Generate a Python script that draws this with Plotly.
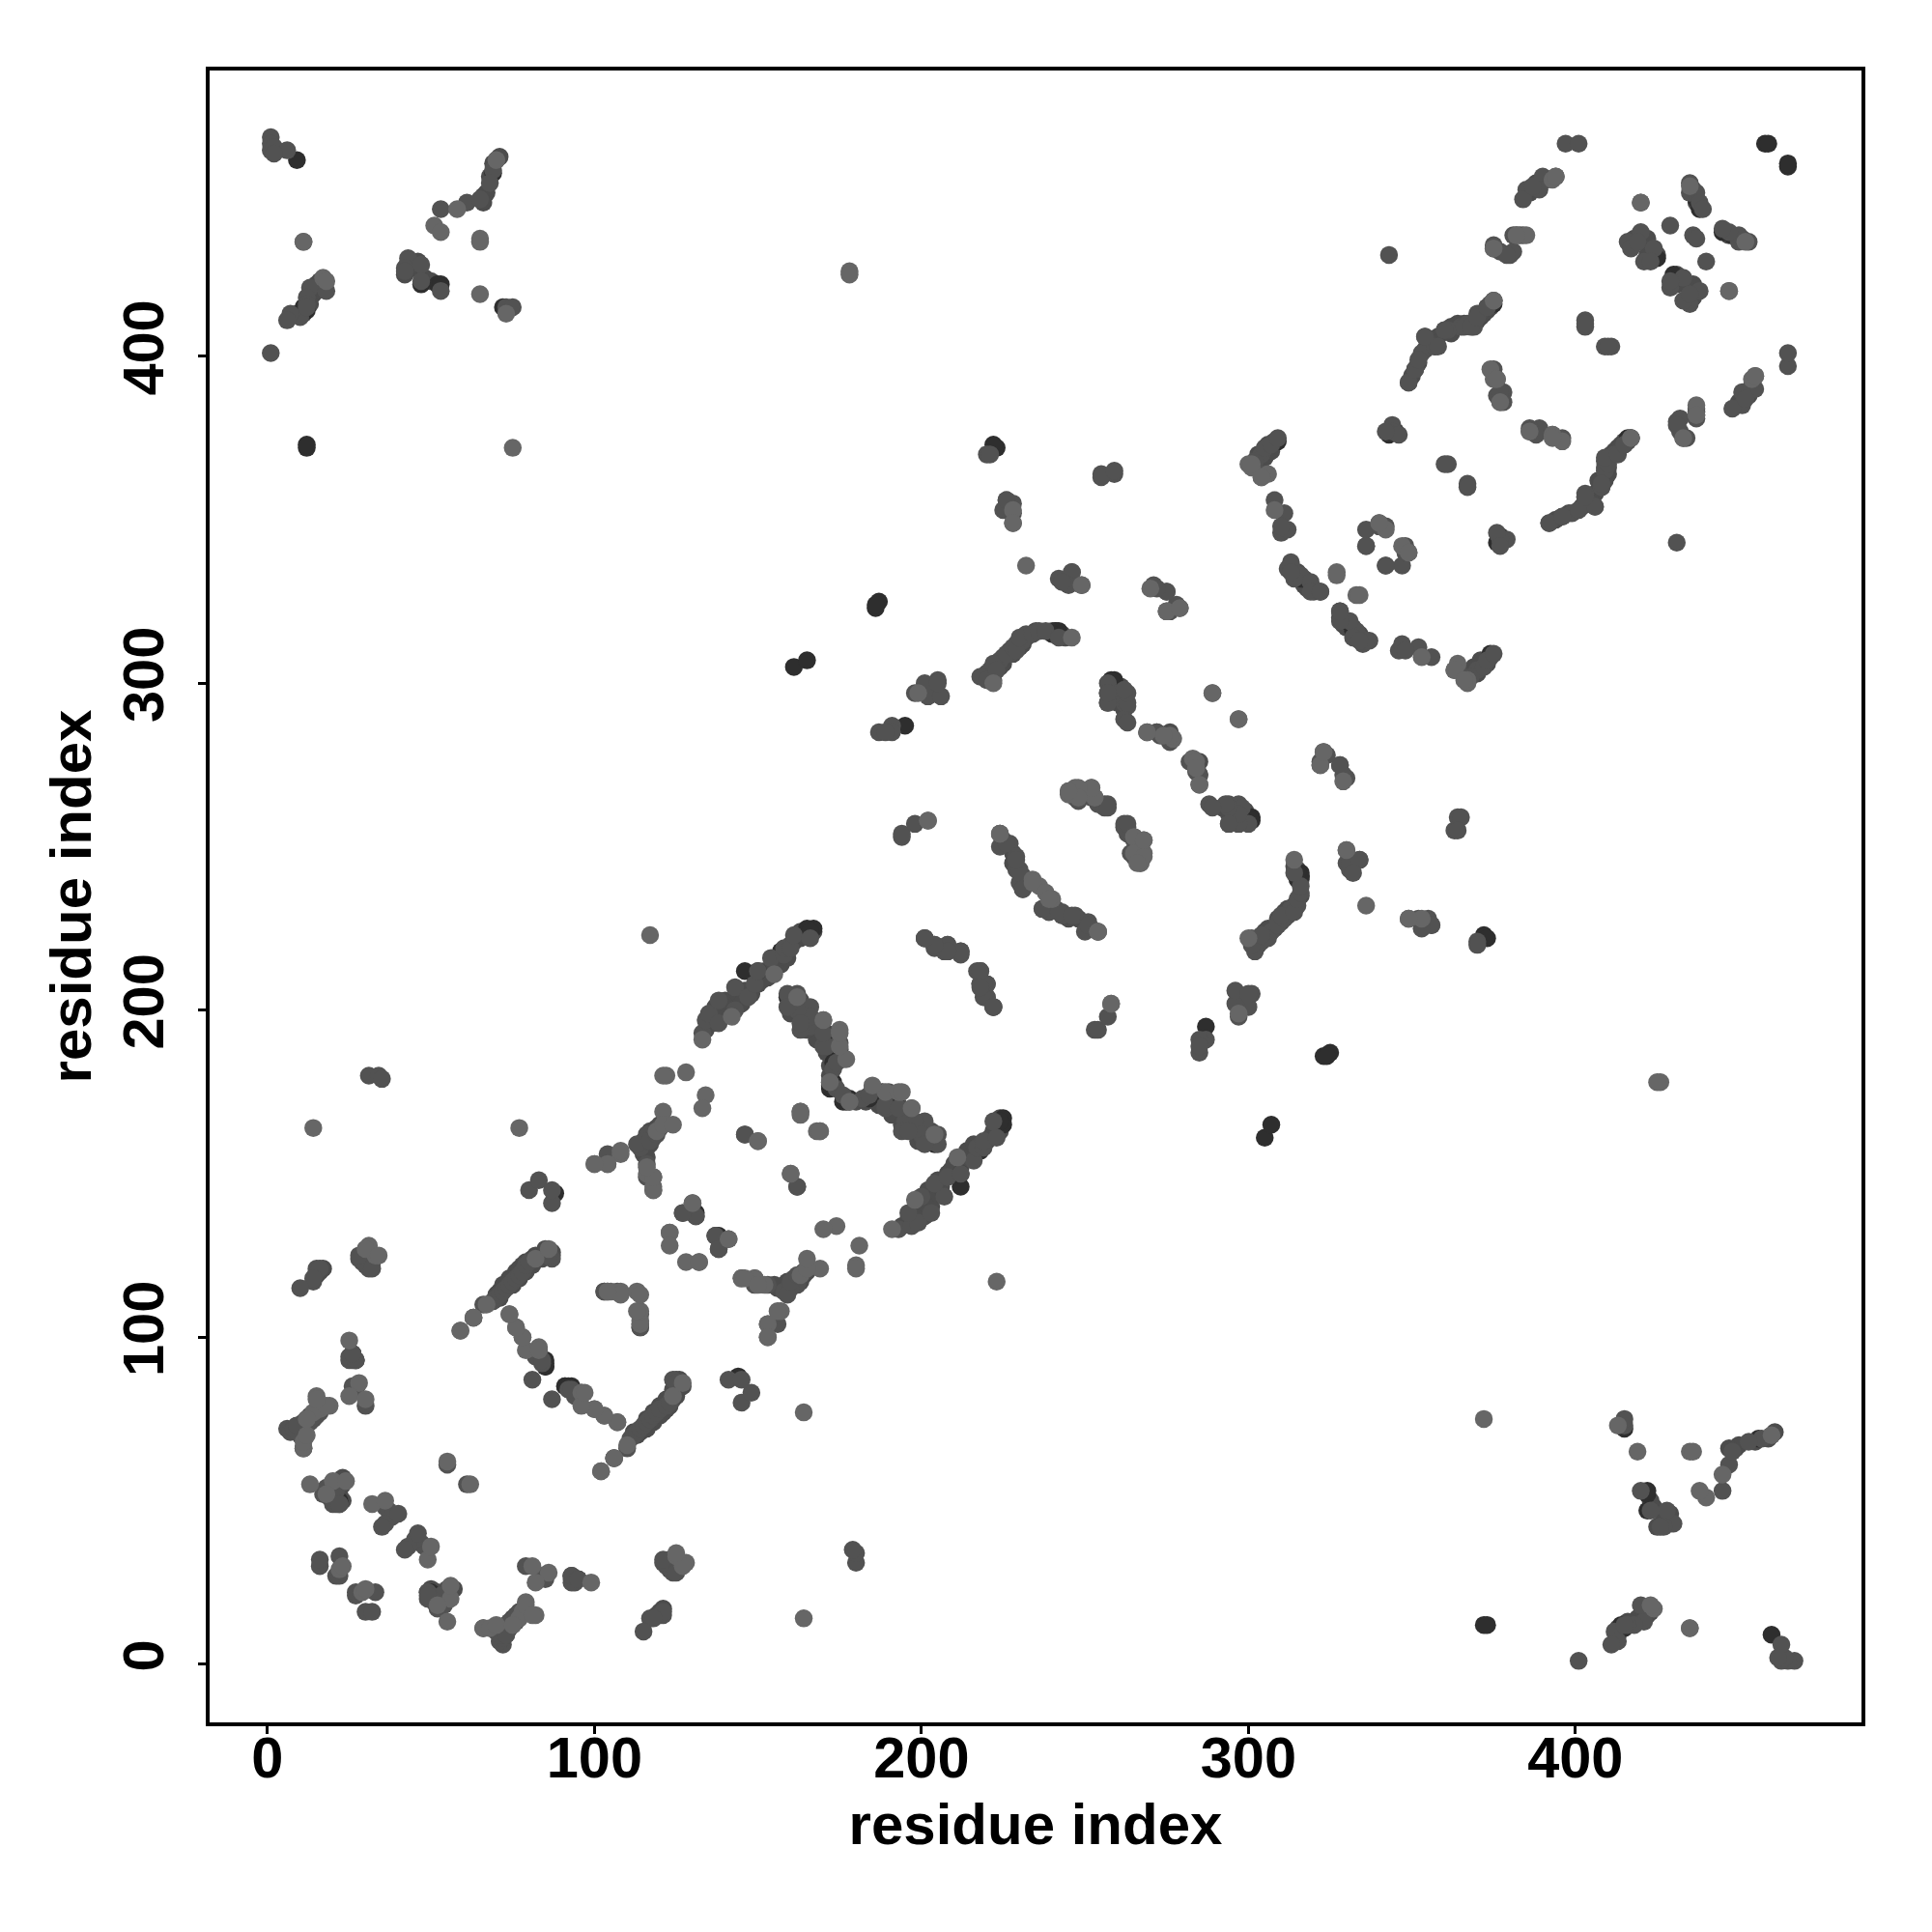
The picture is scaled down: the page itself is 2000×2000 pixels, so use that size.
import plotly.graph_objects as go

# residue contact pairs; the map is symmetric so each is drawn on both sides of the diagonal
contacts_mid = [
 (14,117),(15,120),(15,121),(16,121),(14,118),(28,124),(30,122),(31,121),(32,121),(28,125),
 (26,95),(25,94),(26,93),(27,93),(25,93),(27,84),(26,85),(30,79),
 (6,72),(7,71),(8,72),(9,71),(9,73),(12,75),(13,74),(15,76),(16,77),
 (17,52),(18,54),(19,51),(21,53),(22,49),(20,49),(36,48),(37,47),(38,45),(36,43),(40,46),(35,42),
 (66,110),(69,111),(70,112),(71,113),(72,114),(73,115),(74,116),(75,117),(76,118),(77,119),(78,120),(79,122),(80,123),(87,124),(86,125),
 (82,94),(84,92),(81,87),(83,96),(84,93),(114,103),(103,114),(104,114),(114,107),
 (16,30),(16,32),(22,33),(21,27),(22,27),(21,49),(9,73),
 (93,27),(27,93),(95,26),(26,95),(10,115),(63,106),
 (133,193),(134,197),(135,199),(138,196),(138,203),(143,200),(143,207),(147,204),(149,208),(150,212),(154,216),(158,217),(158,219),(160,219),(161,223),(166,222),
 (162,205),(162,201),(166,201),(170,197),(166,195),(175,190),(170,189),(176,185),(173,182),(172,178),(174,176),(174,184),(171,189),(170,193),(166,198),(163,194),(162,200),(159,205),(163,196),(159,201),
 (201,222),(204,220),(208,220),(212,218),(208,218),(212,217),(208,219),(204,219),(201,222),
 (116,162),(121,165),(118,161),(114,158),(116,153),(118,149),(116,149),(104,156),(104,153),(115,160),(120,164),(113,159),(117,160),(119,162),(118,145),
 (80,145),(83,148),(87,141),(87,145),(127,138),(130,141),(137,131),(138,127),(146,162),(162,146),
 (219,302),(222,301),(224,307),(227,309),(229,312),(232,315),(221,304),(222,306),(226,309),(228,311),(231,313),(218,302),(220,301),(223,304),(229,310),(230,314),(234,315),(236,316),(238,316),(242,314),
 (205,301),(201,300),(202,296),(206,296),(205,300),(198,297),(191,287),(187,285),(191,285),(189,285),
 (257,300),(257,297),(260,297),(262,294),(263,293),(262,289),(257,294),(273,284),(276,283),(272,285),(285,269),(282,276),
 (245,267),(248,264),(252,265),(254,263),(256,263),(256,262),(257,263),(247,265),(262,257),(253,265),
 (224,254),(224,250),(227,251),(229,247),(230,243),(229,243),(230,239),(231,237),(237,231),(230,242),(229,246),(226,251),
 (194,253),(194,254),(198,257),(212,218),(220,208),(218,208),(220,204),(222,201),(207,218),
 (220,370),(226,356),(225,353),(245,331),(246,334),(242,332),(255,364),(271,330),(275,328),(276,322),(278,324),
 (288,263),(294,263),(297,263),(294,257),(298,262),(297,257),
 (322,275),(323,279),(328,275),(329,272),
 (330,249),(334,246),(330,245),(331,243),(364,259),(363,255),(365,259),(349,228),(352,228),(355,228),(356,226),(370,221),
 (1,467),(1,465),(1,463),(2,464),(6,463),(13,421),(12,418),(12,416),(10,412),(12,415),(18,420),(7,413),(6,411),
 (69,457),(70,460),(68,453),(61,447),(53,445),(65,448),(43,430),(47,428),(42,427),(42,426),(53,420),(47,423),(73,415),(75,415),
 (304,370),(302,368),(305,372),(307,373),(309,375),(301,367),(304,364),(308,356),(311,352),(310,346),(312,347),(310,348),
 (313,337),(312,335),(314,334),(316,333),(319,331),(319,328),(322,328),(314,332),(313,336),(313,334),
 (336,347),(340,349),(342,348),(336,342),(340,348),(342,336),(344,379),(344,377),(346,376),(342,377),
 (361,367),(360,367),(349,392),(351,396),(353,401),(354,406),(357,403),(360,408),(365,409),(367,410),(369,409),(370,413),(373,415),(375,417),(361,408),
 (375,396),(376,393),(378,389),(378,386),(376,388),(386,377),(389,377),
 (392,349),(396,351),(399,352),(403,357),(408,360),(406,354),
 (390,455),(389,451),(385,451),(384,448),(387,452),(420,447),(435,453),(435,450),(437,450),(438,447),
 (420,438),(416,435),(417,433),(424,433),(421,429),(423,429),(419,435),(429,440),(439,445),
 (403,411),(403,409),(403,410),(375,433),(377,432),(380,431),(381,432),(383,437),(381,437),
 (384,437),(382,437),(379,431),(375,434),(394,455),(397,465),(401,465),
 (403,358),(409,366),(409,368),(412,370),(415,373),(417,375),(436,437),
 (2,462),(1,401),(49,22),(31,180),(34,180),(35,179),(55,61),(343,431),
]
contacts_strands = [
 (70,113),(71,114),(72,115),(73,116),(74,117),(75,118),(76,119),(77,121),(78,122),(79,123),(81,124),(82,125),(76,120),(74,118),(72,116),(71,112),(75,116),(77,118),(79,120),(81,122),(85,127),(87,125),(87,126),(84,124),
 (134,194),(136,196),(137,198),(137,201),(139,199),(140,203),(141,201),(143,203),(144,205),(145,202),(146,206),(148,205),(150,208),(151,209),(152,212),(153,210),(155,213),(156,216),(157,214),(159,216),(160,220),(161,221),(163,222),(164,223),(163,224),(165,223),(167,224),
 (163,203),(164,200),(165,198),(167,196),(168,193),(171,193),(173,190),(174,187),(173,186),(172,183),(172,180),
 (172,189),(171,187),(168,191),(165,194),(164,196),(160,199),(161,200),(160,203),
 (220,303),(222,303),(224,305),(225,306),(225,308),(227,310),(228,309),(230,311),(231,312),(232,314),(235,316),(240,316),(243,315),(244,314),
 (303,368),(305,370),(306,371),(306,373),(308,374),(305,369),(303,370),(307,371),
 (315,334),(317,332),(317,330),(318,329),(320,328),
 (362,409),(364,410),(366,410),(370,411),(371,412),(372,413),(373,414),(374,416),(374,415),(350,394),(352,398),(354,402),(355,404),(356,405),(358,406),(362,407),
 (115,157),(116,158),(117,159),(118,162),(119,164),(120,165),(117,163),(115,156),(116,155),
 (10,72),(11,71),(11,74),(12,73),(14,75),(10,70),(11,69),(13,76),
 (13,418),(14,419),(15,420),(13,416),(9,413),(11,413),(16,421),(16,423),(15,422),(17,421),
 (43,429),(44,428),(45,427),(46,429),(42,425),(50,423),(48,424),
 (66,449),(67,450),(68,455),(69,459),(71,461),(66,447),
 (20,54),(21,55),(23,55),(21,51),(20,52),(22,52),(23,50),
 (15,119),(16,120),(17,121),(30,124),(29,125),(29,123),(32,123),
 (20,51),(19,54),(23,57),
 (225,252),(228,248),(228,245),(231,241),
 (292,262),(296,261),(299,258),
 (285,276),(285,272),(284,274),(259,297),(261,299),(260,294),
 (420,435),(422,431),(422,436),(425,431),(418,436),
 (436,451),(437,447),(386,450),(388,453),(391,454),
]
contacts_dark = [
 (9,460),(12,372),(12,373),(85,93),(85,91),(88,144),(131,137),(131,138),(167,225),(165,225),(166,224),
 (259,301),(258,301),(195,287),(458,465),(459,465),(187,325),(186,323),(186,324),(161,305),(165,307),
 (241,316),(223,372),(222,373),(22,50),(12,74),(14,76),(12,414),(11,415),(91,85),(93,84),(242,315),
 (85,92),(69,456),(47,422),(52,422),(53,422),(72,415),(309,374),(322,328),(313,335),(316,332),(319,330),
 (343,376),(345,377),(375,416),(437,448),(438,445),(438,446),(425,430),
 (159,204),(157,218),(158,218),(150,212),(146,212),(172,176),(172,177),(174,190),(175,188),(173,184),
 (173,178),(172,192),(166,198),(262,296),(316,241),(316,242),(315,240),(11,66),
]
contacts_light = [
 (59,102),(63,106),(74,107),(76,103),(78,100),(79,96),(83,97),(96,83),(100,78),(103,76),(107,74),(110,67),(106,63),(102,59),
 (13,55),(20,56),(24,56),(32,49),(36,50),(55,62),(11,66),(11,68),(12,70),(15,82),(16,78),(19,79),(14,77),
 (25,99),(28,86),(25,82),(30,81),(33,125),(31,128),(30,127),(34,125),(11,435),(17,424),(18,423),(14,164),(77,164),
 (82,124),(86,127),(105,114),(108,114),(108,113),(113,114),(114,104),(118,146),(12,75),(18,79),(15,81),
 (117,223),(121,169),(122,180),(121,180),(128,181),(134,174),(133,170),(123,132),(132,123),(128,123),(141,130),(100,153),(108,156),
 (150,160),(163,169),(160,150),(168,163),(169,163),(175,194),(177,185),(172,178),(189,175),(193,175),(197,170),(204,162),
 (133,191),(142,198),(155,211),(119,163),(121,165),
 (289,297),(297,289),(247,268),(252,268),(245,266),(265,253),(268,252),(268,248),(265,248),(267,245),
 (234,240),(236,238),(234,239),(202,258),(202,258),(224,254),(254,224),
 (228,353),(228,349),(232,336),(249,330),(270,329),(275,322),(279,323),
 (327,334),(333,327),(11,435),(65,435),(65,436),(65,419),(75,372),(51,440),(53,438),(58,445),(73,413),(70,460),
 (178,426),(178,425),(277,283),(276,284),(274,284),(269,285),
 (308,353),(306,364),(304,363),(363,304),(367,301),
 (396,374),(393,376),(375,417),(437,385),(437,382),(433,375),(393,454),(394,455),(377,386),(375,393),(420,447),
 (300,367),(301,366),(435,452),(347,342),(349,340),(22,29),(23,30),(18,52),
 (222,300),(246,314),(199,297),
 (116,150),(124,165),(145,118),(149,118),(152,116),(157,108),(153,104),(153,100),
]

def split(pairs):
    return ([a for a, b in pairs] + [b for a, b in pairs],
            [b for a, b in pairs] + [a for a, b in pairs])

fig = go.Figure()
for pairs, colour in ((contacts_strands, "#4c4c4c"), (contacts_dark, "#2e2e2e"), (contacts_mid, "#525252"), (contacts_light, "#666666")):
    x, y = split(pairs)
    fig.add_trace(go.Scatter(x=x, y=y, mode="markers", showlegend=False,
                             marker=dict(size=18.5, color=colour, line=dict(width=0))))

tick_vals = [0, 100, 200, 300, 400]
label_font = dict(family="Liberation Sans", size=60, color="black", weight="bold")
common = dict(showgrid=False, zeroline=False, showline=True, mirror=True, linecolor="black", linewidth=4,
              ticks="outside", ticklen=8, tickwidth=3, tickcolor="black", automargin=False,
              tickvals=tick_vals, ticktext=[str(v) for v in tick_vals],
              tickfont=dict(family="Liberation Sans", size=59.5, color="black", weight="bold"))
fig.update_layout(
    width=2000, height=2000, autosize=False, paper_bgcolor="white", plot_bgcolor="white",
    margin=dict(l=209, r=81, t=65, b=225),
    xaxis=dict(range=[-17.7, 487.5], ticklabelstandoff=-26, title=dict(text="residue index", font=label_font, standoff=16), **common),
    yaxis=dict(range=[-17.8, 487.4], tickangle=-90, ticklabelstandoff=12, title=dict(text="residue index", font=label_font, standoff=2), **common),
)
fig.write_html("out.html")
